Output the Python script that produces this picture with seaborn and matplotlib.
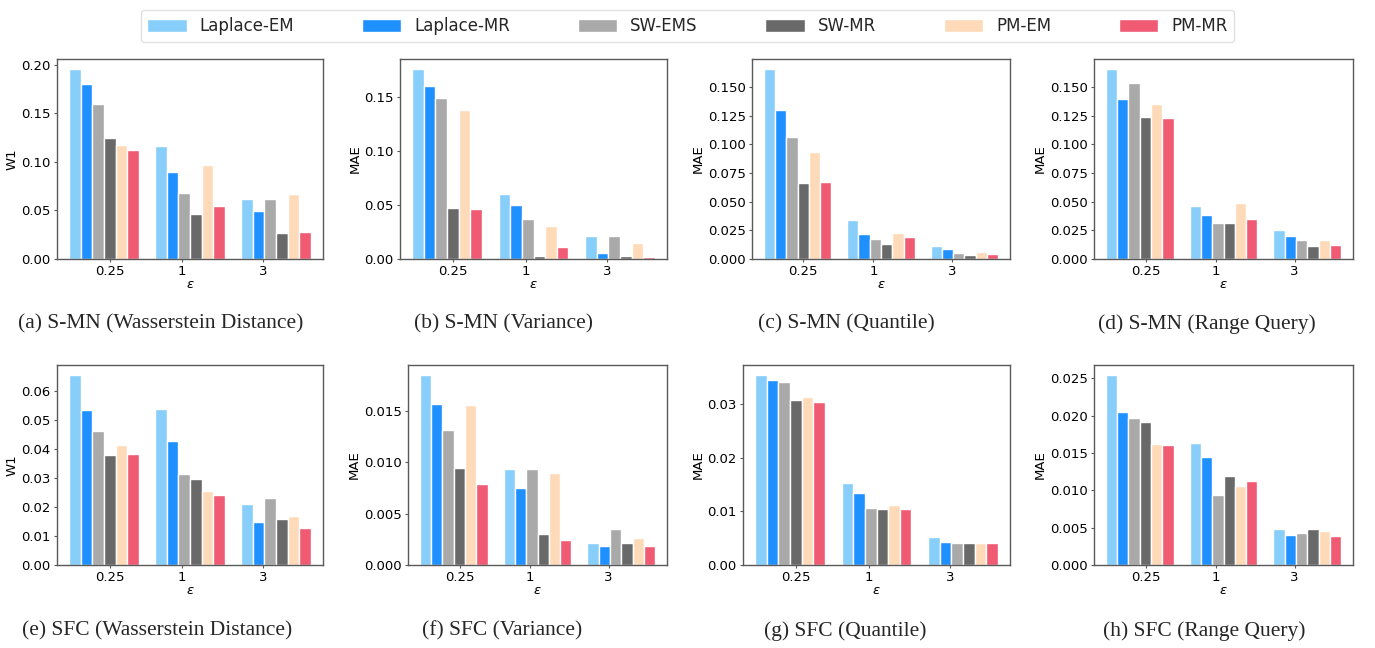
import matplotlib
matplotlib.use("Agg")
import matplotlib.pyplot as plt
import numpy as np
import pandas as pd
import seaborn as sns

# Privacy budgets (x categories) and estimation methods (hue)
epsilons = ["0.25", "1", "3"]
methods = ["Laplace-EM", "Laplace-MR", "SW-EMS", "SW-MR", "PM-EM", "PM-MR"]
colors = ["#87CEFA", "#1E90FF", "#A9A9A9", "#696969", "#FFDAB9", "#F05A73"]

# Each list: method values at eps = 0.25, 1, 3
smn_w1 = {
    "Laplace-EM": [0.196, 0.116, 0.0619],
    "Laplace-MR": [0.180, 0.0896, 0.0496],
    "SW-EMS": [0.160, 0.068, 0.0619],
    "SW-MR": [0.124, 0.0465, 0.0263],
    "PM-EM": [0.117, 0.0968, 0.067],
    "PM-MR": [0.112, 0.055, 0.028],
}
smn_var = {
    "Laplace-EM": [0.176, 0.060, 0.0215],
    "Laplace-MR": [0.160, 0.050, 0.0058],
    "SW-EMS": [0.1485, 0.037, 0.0215],
    "SW-MR": [0.0475, 0.0025, 0.003],
    "PM-EM": [0.138, 0.0307, 0.015],
    "PM-MR": [0.0463, 0.011, 0.002],
}
smn_quant = {
    "Laplace-EM": [0.1662, 0.0342, 0.0116],
    "Laplace-MR": [0.1297, 0.022, 0.0087],
    "SW-EMS": [0.1063, 0.0177, 0.0055],
    "SW-MR": [0.066, 0.0133, 0.0038],
    "PM-EM": [0.0932, 0.0229, 0.0064],
    "PM-MR": [0.0672, 0.0188, 0.0046],
}
smn_range = {
    "Laplace-EM": [0.1662, 0.0463, 0.0255],
    "Laplace-MR": [0.1399, 0.0388, 0.0197],
    "SW-EMS": [0.154, 0.0316, 0.0168],
    "SW-MR": [0.1237, 0.031, 0.0116],
    "PM-EM": [0.135, 0.0489, 0.0168],
    "PM-MR": [0.123, 0.035, 0.0125],
}
sfc_w1 = {
    "Laplace-EM": [0.0655, 0.0535, 0.0211],
    "Laplace-MR": [0.0532, 0.0428, 0.0147],
    "SW-EMS": [0.0462, 0.0314, 0.0232],
    "SW-MR": [0.0379, 0.0297, 0.0157],
    "PM-EM": [0.0414, 0.0256, 0.017],
    "PM-MR": [0.0383, 0.0239, 0.0127],
}
sfc_var = {
    "Laplace-EM": [0.0185, 0.00936, 0.0021],
    "Laplace-MR": [0.0156, 0.00745, 0.0018],
    "SW-EMS": [0.01315, 0.00936, 0.00353],
    "SW-MR": [0.0094, 0.0030, 0.0021],
    "PM-EM": [0.0155, 0.00894, 0.00266],
    "PM-MR": [0.0079, 0.00246, 0.00185],
}
sfc_quant = {
    "Laplace-EM": [0.03547, 0.01534, 0.00528],
    "Laplace-MR": [0.03453, 0.01335, 0.00435],
    "SW-EMS": [0.03416, 0.01068, 0.00404],
    "SW-MR": [0.03068, 0.01037, 0.00404],
    "PM-EM": [0.03137, 0.01124, 0.00416],
    "PM-MR": [0.03037, 0.0105, 0.0041],
}
sfc_range = {
    "Laplace-EM": [0.0255, 0.01638, 0.00482],
    "Laplace-MR": [0.02054, 0.01442, 0.00406],
    "SW-EMS": [0.01973, 0.00942, 0.00433],
    "SW-MR": [0.0192, 0.01196, 0.00478],
    "PM-EM": [0.0162, 0.01063, 0.00455],
    "PM-MR": [0.016, 0.0113, 0.00393],
}

panels = [
    (smn_w1, "W1", "(a) S-MN (Wasserstein Distance)"),
    (smn_var, "MAE", "(b) S-MN (Variance)"),
    (smn_quant, "MAE", "(c) S-MN (Quantile)"),
    (smn_range, "MAE", "(d) S-MN (Range Query)"),
    (sfc_w1, "W1", "(e) SFC (Wasserstein Distance)"),
    (sfc_var, "MAE", "(f) SFC (Variance)"),
    (sfc_quant, "MAE", "(g) SFC (Quantile)"),
    (sfc_range, "MAE", "(h) SFC (Range Query)"),
]

sns.set_theme(style="ticks")
plt.rcParams.update({
    "axes.edgecolor": "0.35",
    "axes.linewidth": 1.0,
    "xtick.color": "0.35",
    "ytick.color": "0.35",
    "xtick.labelcolor": "black",
    "ytick.labelcolor": "black",
    "xtick.labelsize": 9.5,
    "ytick.labelsize": 9.5,
    "axes.labelsize": 9.5,
    "axes.labelcolor": "black",
})
plt.rcParams["font.family"] = ["DejaVu Sans"]

W, H = 1375, 648
fig = plt.figure(figsize=(W / 100, H / 100), dpi=100)

# axes boxes in pixels: left, right, top, bottom
boxes = [
    (57, 323, 59, 259), (400, 667, 59, 259), (752, 1010, 59, 259), (1094, 1353, 59, 259),
    (57, 323, 365, 565), (408, 667, 365, 565), (743, 1010, 365, 565), (1094, 1353, 365, 565),
]
caption_pos = [
    (161, 324), (503, 324), (846, 324), (1207, 324),
    (157, 631), (502, 631), (845, 631), (1204, 631),
]
tick_pos = [0.07, 0.91, 1.85]
bar_width = 0.81

handles = labels = None
for (data, ylab, cap), (l, r, t, b), (cx, cy) in zip(panels, boxes, caption_pos):
    ax = fig.add_axes([l / W, 1 - b / H, (r - l) / W, (b - t) / H])
    df = pd.DataFrame(
        [(eps, m, data[m][i]) for m in methods for i, eps in enumerate(epsilons)],
        columns=["eps", "method", "value"],
    )
    sns.barplot(
        data=df, x="eps", y="value", hue="method",
        order=epsilons, hue_order=methods, palette=colors,
        width=bar_width, edgecolor="white", linewidth=1.0,
        saturation=1, ax=ax, legend=True,
    )
    if handles is None:
        handles, labels = ax.get_legend_handles_labels()
    ax.get_legend().remove()
    ax.set_xticks(tick_pos)
    ax.set_xticklabels(epsilons)
    half = bar_width / 2
    pad = 0.05 * (len(epsilons) - 1 + bar_width)
    ax.set_xlim(-half - pad, len(epsilons) - 1 + half + pad)
    ax.set_xlabel(r"$\varepsilon$", labelpad=0)
    ax.set_ylabel(ylab, labelpad=2)
    for s in ax.spines.values():
        s.set_visible(True)
    ax.tick_params(length=2.5, width=0.8, pad=2)
    fig.text(cx / W, 1 - cy / H, cap, ha="center", va="center",
             fontsize=15.5, family="Liberation Serif")

fig.legend(
    handles, labels, loc="upper center", bbox_to_anchor=(0.5, 1 - 2 / H),
    ncol=6, fontsize=12, frameon=True, fancybox=True,
    handlelength=2.35, handleheight=0.8, handletextpad=0.8,
    columnspacing=4.05, edgecolor="0.85",
)

fig.savefig("out.png", dpi=100)
